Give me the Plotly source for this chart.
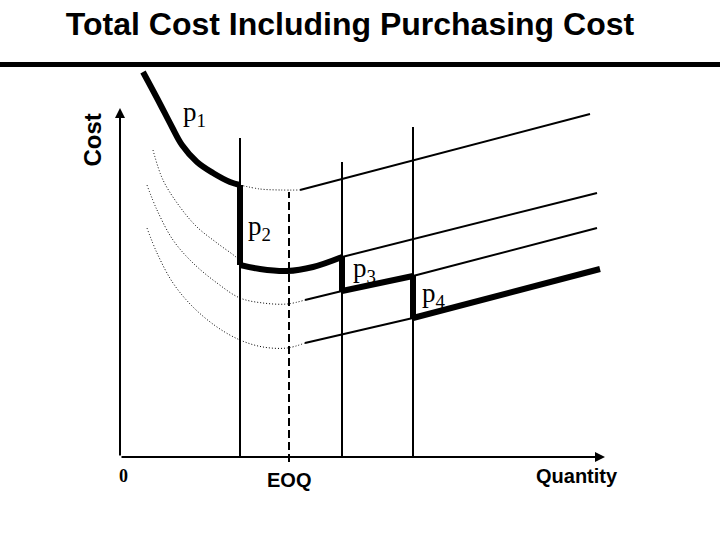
import plotly.graph_objects as go

# ---- data (quantity / cost units) ----
# break points of the price schedule and EOQ
break_q = [60, 111, 146.5]
break_top = [159.5, 147.5, 165]
eoq_q = 84.5
eoq_top = 132.5

# p1 curve (thick part), dotted part and linear extension
p1_thick_q = [11.5, 19, 26, 31, 38.5, 46.5, 55, 60]
p1_thick_c = [192.5, 178.5, 165, 156, 147.5, 142, 137.5, 136]
p1_dot_q = [60, 70, 80, 90]
p1_dot_c = [136, 134, 133.5, 133.5]
p1_line_q = [90, 235]
p1_line_c = [133.5, 171.5]

# p2 curve
p2_dot_q = [16.5, 21.5, 30, 38.5, 48.5, 58.5, 60]
p2_dot_c = [153.5, 138.5, 125, 115, 107, 99.5, 97.5]
p2_thick_q = [60, 70, 83.5, 96.5, 111]
p2_thick_c = [96, 94, 93, 95, 100]
p2_line_q = [111, 238.5]
p2_line_c = [100, 132]

# p3 curve
p3_dot_q = [13.5, 18.5, 26.5, 36.5, 48.5, 60, 71.5, 83.5, 92.5]
p3_dot_c = [136, 123.5, 108.5, 97, 87, 79.5, 77, 76.5, 78.5]
p3_thin_q = [92.5, 111]
p3_thin_c = [78.5, 83]
p3_thick_q = [111, 146.5]
p3_thick_c = [83, 90.5]
p3_line_q = [146.5, 238.5]
p3_line_c = [90.5, 114.5]

# p4 curve
p4_dot_q = [13.5, 18.5, 26.5, 36.5, 48.5, 60, 71.5, 83.5, 92.5]
p4_dot_c = [114.5, 102, 87, 75, 65, 58.5, 55, 54.5, 57]
p4_thin_q = [92.5, 146.5]
p4_thin_c = [57, 69.5]
p4_thick_q = [146.5, 240]
p4_thick_c = [69.5, 94]

# labels
price_labels = ["p<sub>1</sub>", "p<sub>2</sub>", "p<sub>3</sub>", "p<sub>4</sub>"]
price_label_q = [37, 69.5, 122, 157]
price_label_c = [171.5, 114.5, 93.5, 81]

axis_q_max = 242.5
axis_c_max = 174.5

fig = go.Figure()

def line(xs, ys, width=2, dash="solid", shape="linear"):
    fig.add_trace(go.Scatter(x=xs, y=ys, mode="lines",
                             line=dict(color="black", width=width, dash=dash,
                                       shape=shape, smoothing=1.0),
                             hoverinfo="skip", showlegend=False))

# dotted parts of the cost curves
for xs, ys in [(p1_dot_q, p1_dot_c), (p2_dot_q, p2_dot_c),
               (p3_dot_q, p3_dot_c), (p4_dot_q, p4_dot_c)]:
    line(xs, ys, width=1, dash="1px,2px", shape="spline")

# thin linear parts
for xs, ys in [(p1_line_q, p1_line_c), (p2_line_q, p2_line_c),
               (p3_thin_q, p3_thin_c), (p3_line_q, p3_line_c),
               (p4_thin_q, p4_thin_c)]:
    line(xs, ys, width=2)

# vertical break lines
for q, top in zip(break_q, break_top):
    line([q, q], [0, top], width=2)

# EOQ dashed line
line([eoq_q, eoq_q], [-2.5, eoq_top], width=2, dash="8px,4px")

# thick total cost path: curved pieces and vertical price drops
line(p1_thick_q, p1_thick_c, width=6, shape="spline")
line(p2_thick_q, p2_thick_c, width=6, shape="spline")
line(p3_thick_q, p3_thick_c, width=6)
line(p4_thick_q, p4_thick_c, width=6)
line([p1_thick_q[-1], p2_thick_q[0]], [p1_thick_c[-1], p2_thick_c[0]], width=6)
line([p2_thick_q[-1], p3_thick_q[0]], [p2_thick_c[-1], p3_thick_c[0]], width=6)
line([p3_thick_q[-1], p4_thick_q[0]], [p3_thick_c[-1], p4_thick_c[0]], width=6)

annotations = []
# axes with arrows
annotations.append(dict(x=0, y=axis_c_max, ax=0, ay=0, xref="x", yref="y",
                        axref="x", ayref="y", showarrow=True, arrowhead=2,
                        arrowsize=1, arrowwidth=2, arrowcolor="black", text=""))
annotations.append(dict(x=axis_q_max, y=0, ax=0, ay=0, xref="x", yref="y",
                        axref="x", ayref="y", showarrow=True, arrowhead=2,
                        arrowsize=1, arrowwidth=2, arrowcolor="black", text=""))

for t, q, c in zip(price_labels, price_label_q, price_label_c):
    annotations.append(dict(x=q, y=c, xref="x", yref="y", text=t, showarrow=False,
                            font=dict(family="Liberation Serif", size=27, color="black")))

annotations.append(dict(x=1.5, y=-9.25, xref="x", yref="y", text="0", showarrow=False,
                        font=dict(family="Liberation Serif", size=18, color="black", weight="bold")))
annotations.append(dict(x=84.25, y=-11.25, xref="x", yref="y", text="EOQ", showarrow=False,
                        font=dict(family="Liberation Sans", size=20, color="black", weight="bold")))
annotations.append(dict(x=228.5, y=-9.5, xref="x", yref="y", text="Quantity", showarrow=False,
                        font=dict(family="Liberation Sans", size=20, color="black", weight="bold")))
annotations.append(dict(x=-14.25, y=158.5, xref="x", yref="y", text="Cost", showarrow=False,
                        textangle=-90,
                        font=dict(family="Liberation Sans", size=24, color="black", weight="bold")))

fig.update_layout(
    width=720, height=540,
    margin=dict(l=0, r=0, t=0, b=0),
    paper_bgcolor="white", plot_bgcolor="white",
    xaxis=dict(range=[-60, 300], visible=False, fixedrange=True),
    yaxis=dict(range=[-41.5, 228.5], visible=False, fixedrange=True),
    title=dict(text="Total Cost Including Purchasing Cost",
               x=350 / 720, xanchor="center", y=1 - 24 / 540, yanchor="middle",
               xref="paper", yref="container",
               font=dict(family="Liberation Sans", size=32, color="black", weight="bold")),
    annotations=annotations,
    shapes=[dict(type="line", xref="paper", x0=0, x1=1, yref="y", y0=196.25, y1=196.25,
                 line=dict(color="black", width=5))],
)

fig.write_html("out.html", config={"displayModeBar": False},
               post_script="document.body.style.margin='0';")
